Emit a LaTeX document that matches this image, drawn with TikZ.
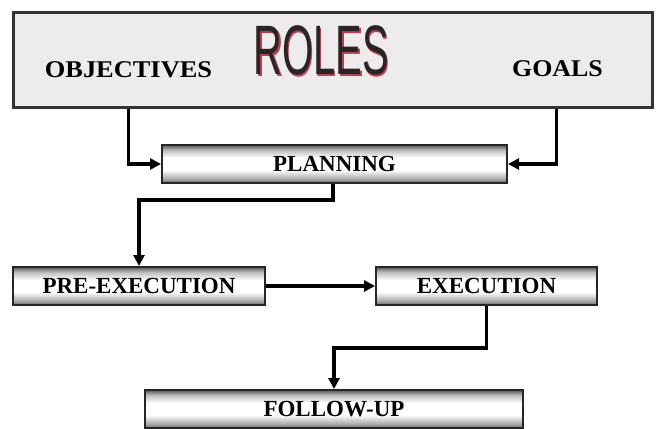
\documentclass[tikz,border=0pt]{standalone}
\usepackage{fontspec}
\setmainfont{Liberation Serif}
\newfontfamily\titlefont{Liberation Sans}
\usetikzlibrary{arrows.meta,calc}

% metallic bar: grey at the edges, white through the middle
\pgfdeclareverticalshading{barshade}{100bp}{%
  color(0bp)=(black!60); color(25bp)=(black!60);
  color(30bp)=(black!35); color(42bp)=(white); color(58bp)=(white);
  color(68bp)=(black!25); color(75bp)=(black!65); color(100bp)=(black!65)}

\definecolor{panel}{RGB}{238,235,236}
\definecolor{rolered}{RGB}{190,60,80}

\tikzset{
  bar/.style={draw=black!85, line width=2pt, shading=barshade,
    rectangle, inner sep=0pt, font=\fontsize{23}{24}\selectfont\bfseries},
  headword/.style={font=\fontsize{24}{26}\selectfont\bfseries, inner sep=0pt},
  conn/.style={line width=3.4pt, -{Triangle[length=11pt,width=11pt]}},
}

\begin{document}
\begin{tikzpicture}[x=1pt,y=-1pt]
  \useasboundingbox (0,0) rectangle (658,428);

  % heading panel
  \node[draw=black!80, line width=3pt, fill=panel, minimum width=639pt,
        minimum height=95pt, inner sep=0pt] (top) at (332.5,60) {};
  \node[headword] (obj) at (128.5,70) {\scalebox{1.1}[1]{OBJECTIVES}};
  \node[headword] (goals) at (557.5,69) {\scalebox{1.08}[1]{GOALS}};
  % title with a red drop shadow behind the dark letters
  \node[inner sep=0pt, text=black!85, font=\titlefont\fontsize{70}{70}\selectfont]
       (roles) at (321,51)
       {\scalebox{0.57}[1]{\rlap{\hspace{3pt}\raisebox{-2pt}{\color{rolered}ROLES}}ROLES}};

  % process bars
  \node[bar, minimum width=345pt, minimum height=38pt] (plan) at (334.5,164) {PLANNING};
  \node[bar, minimum width=252pt, minimum height=38pt] (pre)  at (139,286) {PRE-EXECUTION};
  \node[bar, minimum width=221pt, minimum height=38pt] (exec) at (486.5,286) {EXECUTION};
  \node[bar, minimum width=378pt, minimum height=38pt] (follow) at (334,409) {FOLLOW-UP};

  % connectors
  \draw[conn] (obj |- top.south) |- (plan.west);
  \draw[conn] ($(goals |- top.south)+(-1,0)$) |- (plan.east);
  \coordinate (planbend) at ($(plan.south)+(-1.5,16)$);
  \draw[conn] ($(plan.south)+(-1.5,0)$) -- (planbend) -| (pre.north);
  \draw[conn] (pre.east) -- (exec.west);
  \coordinate (execbend) at ($(exec.south)+(0,42)$);
  \draw[conn] (exec.south) -- (execbend) -| (follow.north);
\end{tikzpicture}
\end{document}
